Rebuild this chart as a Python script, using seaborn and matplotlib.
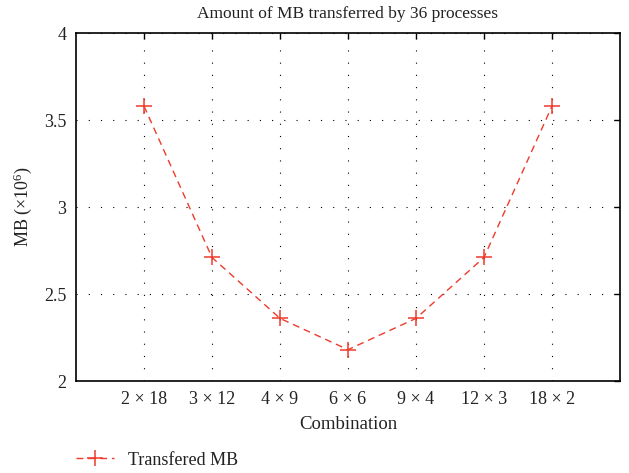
import matplotlib
matplotlib.use("Agg")
import matplotlib.pyplot as plt
import seaborn as sns
import pandas as pd

# Process grid combinations and the data volume moved for each
combinations = ["2 × 18", "3 × 12", "4 × 9", "6 × 6", "9 × 4", "12 × 3", "18 × 2"]
transferred_mb = [3.58, 2.71, 2.36, 2.18, 2.36, 2.71, 3.58]
y_ticks = [2, 2.5, 3, 3.5, 4]
y_tick_labels = ["2", "2.5", "3", "3.5", "4"]

sns.set_theme(style="white")
plt.rcParams["font.family"] = ["Liberation Serif", "DejaVu Serif"]
plt.rcParams["mathtext.fontset"] = "custom"
plt.rcParams["mathtext.rm"] = "Liberation Serif"
plt.rcParams["mathtext.it"] = "Liberation Serif:italic"

df = pd.DataFrame({"Combination": combinations, "MB": transferred_mb})

fig = plt.figure(figsize=(6.29, 4.73), dpi=100)
ax = fig.add_axes([0.1208, 0.1945, 0.8649, 0.7357])

red = "#EE3B2B"
text_color = "#222222"
sns.lineplot(data=df, x="Combination", y="MB", sort=False, ax=ax,
             color=red, linewidth=1.0, dashes=False, marker="+",
             markersize=12, markeredgewidth=1.1, markeredgecolor=red,
             markerfacecolor=red, label="Transfered MB", legend=False)
ax.lines[0].set_linestyle((0, (5, 3.5)))

ax.set_xlim(-1, len(combinations))
ax.set_ylim(2, 4)
ax.set_xticks(range(len(combinations)))
ax.set_xticklabels(combinations)
ax.set_yticks(y_ticks)
ax.set_yticklabels(y_tick_labels)

ax.grid(True, linestyle=(0, (1, 10)), color="black", linewidth=0.8)
for s in ax.spines.values():
    s.set_color("black")
    s.set_linewidth(1.2)
ax.tick_params(direction="in", length=4, width=1.0, colors="black",
               top=True, right=True, labelsize=13, pad=7)
ax.tick_params(axis="x", labeltop=False)
ax.tick_params(axis="y", labelright=False)
for lab in ax.get_xticklabels() + ax.get_yticklabels():
    lab.set_color(text_color)

ax.set_xlabel("Combination", fontsize=13.5, color=text_color, labelpad=6)
ax.set_ylabel("MB (×10$^{6}$)", fontsize=13, color=text_color, labelpad=7)
ax.set_title("Amount of MB transferred by 36 processes", fontsize=12.5,
             color=text_color, pad=11)

handles, labels = ax.get_legend_handles_labels()
fig.legend(handles, labels, loc="lower left", bbox_to_anchor=(0.095, -0.025),
           frameon=False, fontsize=13, handlelength=2.1, handletextpad=0.8,
           labelcolor=text_color)

fig.savefig("out.png", dpi=100, facecolor="white")
